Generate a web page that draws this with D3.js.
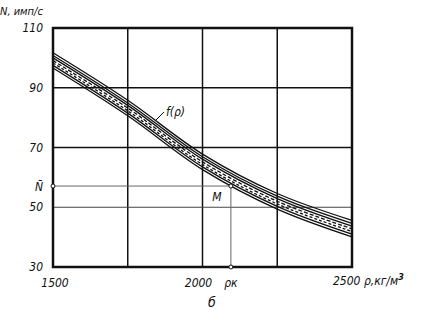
<!DOCTYPE html>
<html>
<head>
<meta charset="utf-8">
<script src="https://cdn.jsdelivr.net/npm/d3@7"></script>
<style>
  body { margin: 0; background: #fff; }
  text { font-family: "DejaVu Sans Condensed", "DejaVu Sans", sans-serif; font-style: italic; fill: #111; }
</style>
</head>
<body>
<svg id="chart" width="421" height="319"></svg>
<script>
// density points (kg/m3) where the curves were read
var rho = [1500, 1750, 2000, 2250, 2500];

// bundle of calibration curves N = f(rho), top to bottom
var curves = [
  {dash: null, values: [101.7, 85.8, 67.8, 54.6, 45.6]},
  {dash: null, values: [100.8, 84.9, 66.9, 53.7, 44.6]},
  {dash: null, values: [100.0, 84.1, 66.1, 52.9, 43.7]},
  {dash: '4,2', values: [99.1, 83.2, 65.2, 52.0, 42.8]},
  {dash: '3,2', values: [98.3, 82.3, 64.3, 51.1, 41.9]},
  {dash: null, values: [97.5, 81.5, 63.5, 50.3, 41.0]},
  {dash: null, values: [96.6, 80.6, 62.6, 49.4, 40.1]},
];

var xTicks = [1500, 2000];
var xGrid = [1750, 2000, 2250];
var yTicks = [110, 90, 70, 50, 30];
var yGrid = [90, 70];

// measured point M
var nBar = 57.1;
var rhoK = 2095;

var svg = d3.select('#chart');
var x = d3.scaleLinear().domain([1500, 2500]).range([53, 352]);
var y = d3.scaleLinear().domain([30, 110]).range([267, 28]);

// grid
svg.selectAll('line.vgrid')
  .data(xGrid)
  .enter()
  .append('line')
  .attr('x1', d => x(d)).attr('x2', d => x(d))
  .attr('y1', y(110)).attr('y2', y(30))
  .style('stroke', '#111')
  .style('stroke-width', 1.5);

svg.selectAll('line.hgrid')
  .data(yGrid)
  .enter()
  .append('line')
  .attr('x1', x(1500)).attr('x2', x(2500))
  .attr('y1', d => y(d)).attr('y2', d => y(d))
  .style('stroke', '#111')
  .style('stroke-width', 1.5);

// the 50 line is drawn thinner
svg.append('line')
  .attr('x1', x(1500)).attr('x2', x(2500))
  .attr('y1', y(50)).attr('y2', y(50))
  .style('stroke', '#444')
  .style('stroke-width', 1.2);

// curves
var line = d3.line()
  .x((d, i) => x(rho[i]))
  .y(d => y(d))
  .curve(d3.curveCatmullRom);

svg.selectAll('path.curve')
  .data(curves)
  .enter()
  .append('path')
  .attr('d', d => line(d.values))
  .style('fill', 'none')
  .style('stroke', '#111')
  .style('stroke-width', 1.3)
  .style('stroke-dasharray', d => d.dash);

// N-bar and rho_k construction lines
svg.append('line')
  .attr('x1', x(1500)).attr('x2', x(rhoK))
  .attr('y1', y(nBar)).attr('y2', y(nBar))
  .style('stroke', '#666')
  .style('stroke-width', 1);
svg.append('line')
  .attr('x1', x(rhoK)).attr('x2', x(rhoK))
  .attr('y1', y(nBar)).attr('y2', y(30))
  .style('stroke', '#666')
  .style('stroke-width', 1);

// frame
svg.append('rect')
  .attr('x', x(1500)).attr('y', y(110))
  .attr('width', x(2500) - x(1500))
  .attr('height', y(30) - y(110))
  .style('fill', 'none')
  .style('stroke', '#111')
  .style('stroke-width', 2.5);

// marker circles
var marks = [[1500, nBar], [rhoK, nBar], [rhoK, 30]];
svg.selectAll('circle.mark')
  .data(marks)
  .enter()
  .append('circle')
  .attr('cx', d => x(d[0]))
  .attr('cy', d => y(d[1]))
  .attr('r', 2)
  .style('fill', '#fff')
  .style('stroke', '#111')
  .style('stroke-width', 1);

// y tick labels
svg.selectAll('text.ytick')
  .data(yTicks)
  .enter()
  .append('text')
  .attr('x', 43)
  .attr('y', d => y(d) + 4)
  .attr('text-anchor', 'end')
  .style('font-size', '12px')
  .text(d => d);

svg.append('text')
  .attr('x', 43).attr('y', y(nBar) + 5)
  .attr('text-anchor', 'end')
  .style('font-size', '12px')
  .text('N\u0304');

svg.append('text')
  .attr('x', 0).attr('y', 15)
  .style('font-size', '11px')
  .text('N, имп/с');

// x tick labels
svg.selectAll('text.xtick')
  .data(xTicks)
  .enter()
  .append('text')
  .attr('x', d => (d === 1500 ? x(d) + 2 : x(d) - 4))
  .attr('y', 287)
  .attr('text-anchor', 'middle')
  .style('font-size', '12px')
  .text(d => d);

var lbl = svg.append('text')
  .attr('x', 333).attr('y', 285)
  .style('font-size', '12px');
lbl.append('tspan').text('2500 ρ,кг/м');
lbl.append('tspan').attr('dy', -5).style('font-size', '9px').style('font-weight', 'bold').text('3');

svg.append('text')
  .attr('x', x(rhoK)).attr('y', 287)
  .attr('text-anchor', 'middle')
  .style('font-size', '12px')
  .text('ρк');

svg.append('text')
  .attr('x', x(rhoK) - 14).attr('y', y(nBar) + 15)
  .attr('text-anchor', 'middle')
  .style('font-size', '12px')
  .text('M');

svg.append('text')
  .attr('x', 212).attr('y', 307)
  .attr('text-anchor', 'middle')
  .style('font-size', '14px')
  .text('б');

// f(rho) label with leader
svg.append('line')
  .attr('x1', 155).attr('y1', 121)
  .attr('x2', 164).attr('y2', 112)
  .style('stroke', '#111')
  .style('stroke-width', 1);
svg.append('text')
  .attr('x', 166).attr('y', 116)
  .style('font-size', '12px')
  .text('f(ρ)');
</script>
</body>
</html>
